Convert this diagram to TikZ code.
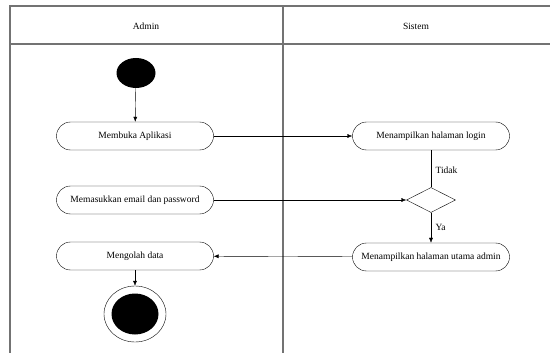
\documentclass[tikz,border=0pt]{standalone}
\usepackage{fontspec}
\setmainfont{Liberation Serif}
\usetikzlibrary{arrows.meta, positioning, shapes.geometric}
\tikzset{
    actnode/.style={rectangle, rounded corners=14pt, draw, minimum width=157pt, minimum height=28pt, font=\fontsize{9.5}{11}\selectfont},
    startnode/.style={ellipse, fill=black, minimum width=39pt, minimum height=30pt, inner sep=0pt},
    endnode/.style={ellipse, draw, minimum width=62pt, minimum height=56pt, inner sep=0pt},
    endfill/.style={ellipse, fill=black, minimum width=47pt, minimum height=41pt, inner sep=0pt},
    decnode/.style={diamond, draw, minimum width=49pt, minimum height=25pt, inner sep=0pt},
    lbl/.style={font=\fontsize{9.5}{11}\selectfont},
    flow/.style={draw, -{Latex[length=5pt, width=4pt]}},
    lane/.style={draw=black!55, line width=1.3pt},
}

\begin{document}
\begin{tikzpicture}[x=1pt, y=-1pt]
    \useasboundingbox (0,0) rectangle (550,353);
    % Swimlanes
    \draw[lane] (10,353) -- (10,6) -- (550,6);
    \draw[lane] (10,44) -- (550,44);
    \draw[lane] (283,6) -- (283,353);
    \node[lbl] (hadmin) at (146,26) {Admin};
    \node[lbl] (hsistem) at (416,26) {Sistem};

    % Admin lane
    \node[startnode] (start) at (136,73) {};
    \node[actnode] (buka) at (135,136) {Membuka Aplikasi};
    \node[actnode] (input) at (135,200) {Memasukkan email dan password};
    \node[actnode] (olah) at (135,256) {Mengolah data};
    \node[endnode] (stop) at (135,314) {};
    \node[endfill] (stopin) at (135,314) {};

    % Sistem lane
    \node[actnode] (login) at (431,136) {Menampilkan halaman login};
    \node[decnode] (cek) at (431,200) {};
    \node[actnode] (utama) at (431,257) {Menampilkan halaman utama admin};

    % Flows
    \draw[flow] (start) -- (buka);
    \draw[flow] (buka) -- (login);
    \draw (login) -- node[lbl, right=1pt, pos=0.55] {Tidak} (cek);
    \draw[flow] (input) -- (cek);
    \draw[flow] (cek) -- node[lbl, right=1pt, pos=0.5] {Ya} (utama);
    \draw[flow] (utama) -- (olah);
    \draw[flow] (olah) -- (stop);
\end{tikzpicture}
\end{document}
